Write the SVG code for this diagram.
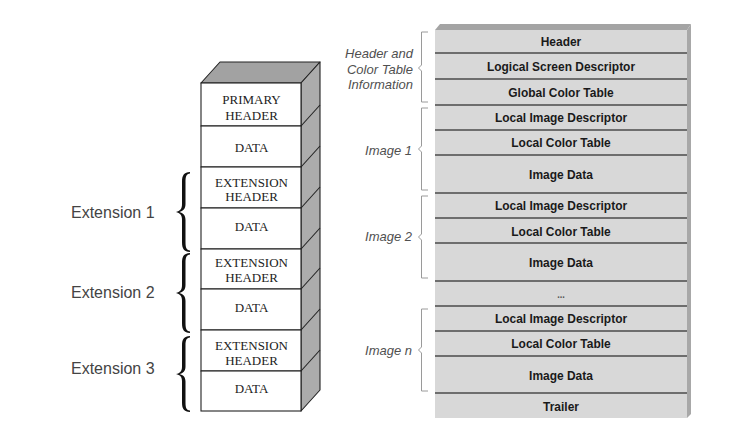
<svg xmlns="http://www.w3.org/2000/svg" width="739" height="427" viewBox="0 0 739 427">
<style>
.front{fill:#ffffff;stroke:#222;stroke-width:1.1}
.side{fill:#acacac;stroke:#222;stroke-width:1.1;stroke-linejoin:round}
.top{fill:#a2a2a2;stroke:#222;stroke-width:1.1;stroke-linejoin:round}
.diag{stroke:#222;stroke-width:1.1;fill:none}
.ser{font-family:"Liberation Serif","Times New Roman",serif;font-size:13px;fill:#222;text-anchor:middle}
.ext{font-family:"Liberation Sans",Arial,sans-serif;font-size:16px;fill:#444}
.brace{fill:#111}
.row{fill:#d8d8d8}
.sep{stroke:#6e6e6e;stroke-width:2}
.bold{font-family:"Liberation Sans",Arial,sans-serif;font-size:13px;font-weight:bold;fill:#1a1a1a;text-anchor:middle}
.ital{font-family:"Liberation Sans",Arial,sans-serif;font-size:13px;font-style:italic;fill:#505050;text-anchor:end}
.bracket{fill:none;stroke:#9a9a9a;stroke-width:1}
</style>
<defs>
<path id="bracePath" d="M14,0 C8,0.5 6,3 6,10 L6,32 C6,37 4,39 0,40 C4,41 6,43 6,48 L6,70 C6,77 8,79.5 14,80 L14,78.5 C10.5,78 9.5,76 9.5,70 L9.5,48 C9.5,43 7,41 3.5,40 C7,39 9.5,37 9.5,32 L9.5,10 C9.5,4 10.5,2 14,1.5 Z"/>
</defs>
<rect width="739" height="427" fill="#ffffff"/>

<!-- Left stack -->
<g id="left-stack">
<polygon class="top" points="201,83 220,62 320,62 301,83"/>
<polygon class="side" points="301,83 320,62 320,390 301,411"/>
<g id="primary-header">
<rect class="front" x="201" y="83" width="100" height="43"/>
<text class="ser" x="251.5" y="104">PRIMARY</text>
<text class="ser" x="251.5" y="119.5">HEADER</text>
</g>
<g id="data-0">
<rect class="front" x="201" y="126" width="100" height="41"/>
<line class="diag" x1="301" y1="126" x2="320" y2="105"/>
<text class="ser" x="251.5" y="152">DATA</text>
</g>
<g id="ext-header-1">
<rect class="front" x="201" y="167" width="100" height="41"/>
<line class="diag" x1="301" y1="167" x2="320" y2="146"/>
<text class="ser" x="251.5" y="186.5">EXTENSION</text>
<text class="ser" x="251.5" y="200.5">HEADER</text>
</g>
<g id="data-1">
<rect class="front" x="201" y="208" width="100" height="41"/>
<line class="diag" x1="301" y1="208" x2="320" y2="187"/>
<text class="ser" x="251.5" y="231">DATA</text>
</g>
<g id="ext-header-2">
<rect class="front" x="201" y="249" width="100" height="40"/>
<line class="diag" x1="301" y1="249" x2="320" y2="228"/>
<text class="ser" x="251.5" y="267">EXTENSION</text>
<text class="ser" x="251.5" y="282">HEADER</text>
</g>
<g id="data-2">
<rect class="front" x="201" y="289" width="100" height="41"/>
<line class="diag" x1="301" y1="289" x2="320" y2="268"/>
<text class="ser" x="251.5" y="311.5">DATA</text>
</g>
<g id="ext-header-3">
<rect class="front" x="201" y="330" width="100" height="41"/>
<line class="diag" x1="301" y1="330" x2="320" y2="309"/>
<text class="ser" x="251.5" y="350">EXTENSION</text>
<text class="ser" x="251.5" y="365">HEADER</text>
</g>
<g id="data-3">
<rect class="front" x="201" y="371" width="100" height="40"/>
<line class="diag" x1="301" y1="371" x2="320" y2="350"/>
<text class="ser" x="251.5" y="393">DATA</text>
</g>
</g>

<!-- Extension labels and braces -->
<g id="extension-1">
<text class="ext" x="71" y="218">Extension 1</text>
<use href="#bracePath" class="brace" transform="translate(176,172)"/>
</g>
<g id="extension-2">
<text class="ext" x="71" y="298">Extension 2</text>
<use href="#bracePath" class="brace" transform="translate(176,253)"/>
</g>
<g id="extension-3">
<text class="ext" x="71" y="374">Extension 3</text>
<use href="#bracePath" class="brace" transform="translate(176,336) scale(1,0.95)"/>
</g>

<!-- Right stack -->
<g id="right-stack">
<polygon points="435,30 440,24 691,24 687,30" fill="#a4a4a4"/>
<polygon points="687,30 691,24 691,414 687,418" fill="#a8a8a8"/>
<rect class="row" x="435" y="30" width="252" height="388"/>
<line class="sep" x1="435" y1="53" x2="687" y2="53"/>
<line class="sep" x1="435" y1="79" x2="687" y2="79"/>
<line class="sep" x1="435" y1="105" x2="687" y2="105"/>
<line class="sep" x1="435" y1="130" x2="687" y2="130"/>
<line class="sep" x1="435" y1="155" x2="687" y2="155"/>
<line class="sep" x1="435" y1="193" x2="687" y2="193"/>
<line class="sep" x1="435" y1="218" x2="687" y2="218"/>
<line class="sep" x1="435" y1="243" x2="687" y2="243"/>
<line class="sep" x1="435" y1="281" x2="687" y2="281"/>
<line class="sep" x1="435" y1="306" x2="687" y2="306"/>
<line class="sep" x1="435" y1="331" x2="687" y2="331"/>
<line class="sep" x1="435" y1="356" x2="687" y2="356"/>
<line class="sep" x1="435" y1="393" x2="687" y2="393"/>
<g transform="translate(561,0) scale(0.92,1)">
<g id="gif-header"><text class="bold" x="0" y="46.5">Header</text></g>
<g id="logical-screen-descriptor"><text class="bold" x="0" y="71">Logical Screen Descriptor</text></g>
<g id="global-color-table"><text class="bold" x="0" y="97">Global Color Table</text></g>
<g id="lid-1"><text class="bold" x="0" y="122">Local Image Descriptor</text></g>
<g id="lct-1"><text class="bold" x="0" y="147">Local Color Table</text></g>
<g id="image-data-1"><text class="bold" x="0" y="179">Image Data</text></g>
<g id="lid-2"><text class="bold" x="0" y="210">Local Image Descriptor</text></g>
<g id="lct-2"><text class="bold" x="0" y="236">Local Color Table</text></g>
<g id="image-data-2"><text class="bold" x="0" y="267">Image Data</text></g>
<g id="ellipsis"><text class="bold" x="0" y="298" style="font-size:10px;fill:#555">...</text></g>
<g id="lid-n"><text class="bold" x="0" y="323">Local Image Descriptor</text></g>
<g id="lct-n"><text class="bold" x="0" y="348.5">Local Color Table</text></g>
<g id="image-data-n"><text class="bold" x="0" y="380">Image Data</text></g>
<g id="trailer"><text class="bold" x="0" y="411">Trailer</text></g>
</g>
</g>

<!-- Group labels with brackets -->
<g id="group-header">
<text class="ital" x="413" y="58">Header and</text>
<text class="ital" x="413" y="73.5">Color Table</text>
<text class="ital" x="413" y="89">Information</text>
<path class="bracket" d="M428,32 H421.5 V65 L418.5,68 L421.5,71 V102 H428"/>
</g>
<g id="group-image-1">
<text class="ital" x="412" y="154.5">Image 1</text>
<path class="bracket" d="M428,108 H421.5 V146 L418.5,149 L421.5,152 V190 H428"/>
</g>
<g id="group-image-2">
<text class="ital" x="412" y="241">Image 2</text>
<path class="bracket" d="M428,196 H421.5 V234 L418.5,237 L421.5,240 V278 H428"/>
</g>
<g id="group-image-n">
<text class="ital" x="412" y="354.5">Image n</text>
<path class="bracket" d="M428,309 H421.5 V347 L418.5,350 L421.5,353 V391 H428"/>
</g>
<g id="connectors"></g>
</svg>
